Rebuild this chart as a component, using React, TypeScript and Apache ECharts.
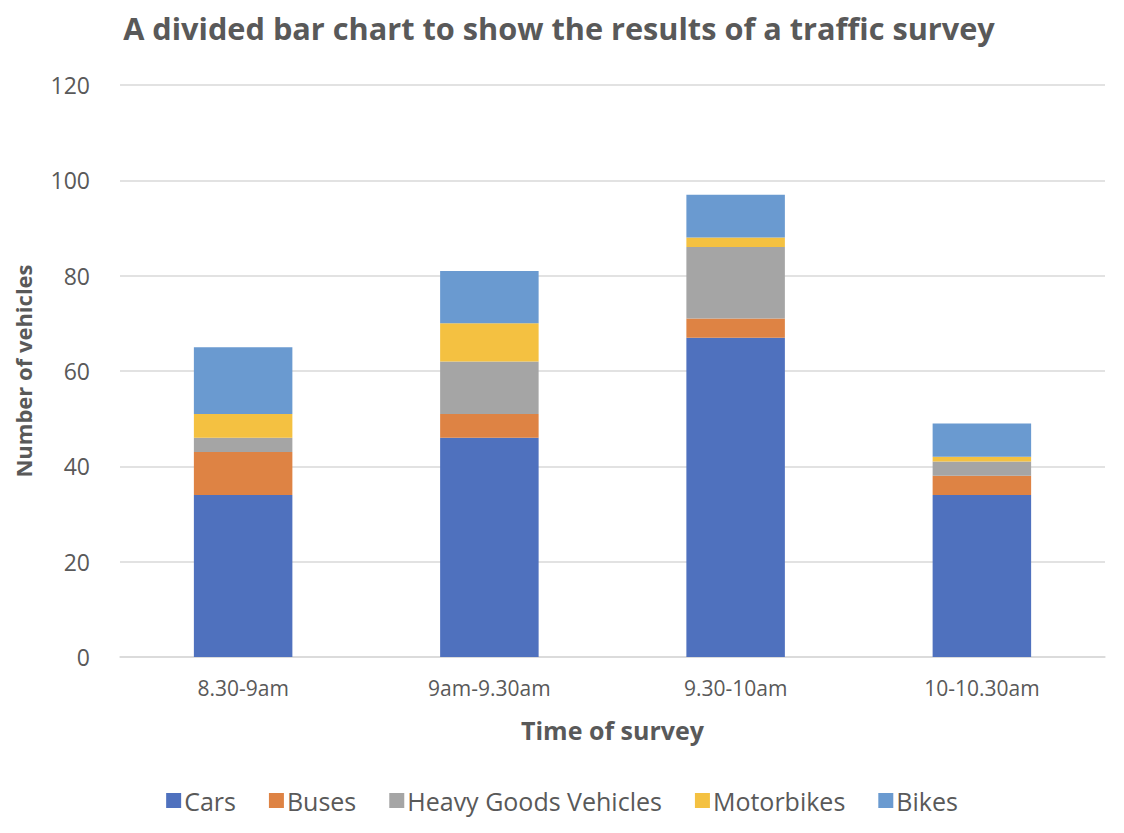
import { useEffect, useRef } from 'react';
import * as echarts from 'echarts';

// 调查时段
const categories = ['8.30-9am', '9am-9.30am', '9.30-10am', '10-10.30am'];

// 各类车辆数量（分段堆叠）
const cars = [34, 46, 67, 34];
const buses = [9, 5, 4, 4];
const heavyGoods = [3, 11, 15, 3];
const motorbikes = [5, 8, 2, 1];
const bikes = [14, 11, 9, 7];

const seriesNames = ['Cars', 'Buses', 'Heavy Goods Vehicles', 'Motorbikes', 'Bikes'];
const seriesData = [cars, buses, heavyGoods, motorbikes, bikes];
const colors = ['#4F71BE', '#DE8344', '#A5A5A5', '#F4C141', '#6A9AD0'];

const FONT = '"Open Sans", "Liberation Sans", sans-serif';
const TEXT = '#595959';

const App = () => {
  const chartRef = useRef<HTMLDivElement>(null);

  useEffect(() => {
    if (!chartRef.current) return;
    const chart = echarts.init(chartRef.current, undefined, { renderer: 'svg' });

    chart.setOption({
      animation: false,
      color: colors,
      textStyle: { fontFamily: FONT },
      title: {
        text: 'A divided bar chart to show the results of a traffic survey',
        left: 554,
        top: 7,
        textAlign: 'center',
        textStyle: { fontSize: 30.7, fontWeight: 'bold', color: TEXT, fontFamily: FONT },
      },
      grid: { left: 120, right: 19, top: 85, bottom: 176 },
      legend: {
        bottom: 15,
        left: 'center',
        itemWidth: 15,
        itemHeight: 15,
        itemGap: 33,
        icon: 'rect',
        textStyle: { fontSize: 25, color: TEXT, fontFamily: FONT, padding: [0, 0, 0, -2] },
        data: seriesNames,
      },
      xAxis: {
        type: 'category',
        data: categories,
        name: 'Time of survey',
        nameLocation: 'middle',
        nameGap: 60,
        nameTextStyle: { fontSize: 25, fontWeight: 'bold', color: TEXT },
        axisTick: { show: false },
        axisLine: { lineStyle: { color: '#D9D9D9', width: 1.5 } },
        axisLabel: { fontSize: 21, color: TEXT, margin: 20 },
      },
      yAxis: {
        type: 'value',
        min: 0,
        max: 120,
        interval: 20,
        name: 'Number of vehicles',
        nameLocation: 'middle',
        nameGap: 86,
        nameRotate: 90,
        nameTextStyle: { fontSize: 22, fontWeight: 'bold', color: TEXT },
        axisLine: { show: false },
        axisTick: { show: false },
        axisLabel: { fontSize: 23, color: TEXT, margin: 30 },
        splitLine: { lineStyle: { color: '#D9D9D9', width: 1.5 } },
      },
      series: seriesNames.map((name, i) => ({
        name,
        type: 'bar',
        stack: 'total',
        barWidth: '40%',
        data: seriesData[i],
        itemStyle: { color: colors[i] },
      })),
    });

    return () => {
      chart.dispose();
    };
  }, []);

  return (
    <div
      ref={chartRef}
      style={{ position: 'absolute', left: 0, top: 0, width: '1124px', height: '833px', background: '#fff' }}
    />
  );
};

export default App;
